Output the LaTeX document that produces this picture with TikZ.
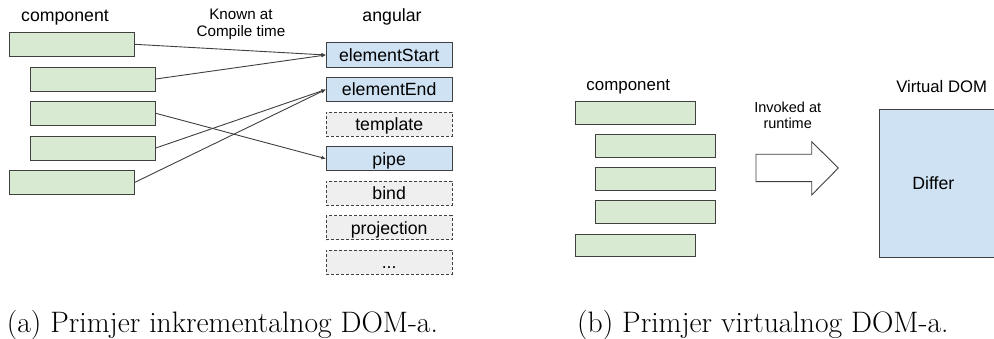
\documentclass[tikz,border=0pt]{standalone}
\usepackage{fontspec}
\newfontfamily\arialf{Liberation Sans}
\usetikzlibrary{arrows.meta}
\definecolor{gfill}{HTML}{D9EAD3}
\definecolor{bfill}{HTML}{CFE2F3}
\definecolor{yfill}{HTML}{EFEFEF}
\definecolor{edge}{HTML}{404040}
\tikzset{
  x=1pt, y=-1pt,
  lbl/.style={inner sep=0pt, anchor=base, font=\arialf\fontsize{17.7}{20}\selectfont},
  small/.style={inner sep=0pt, anchor=base, font=\arialf\fontsize{15.2}{18}\selectfont},
  captext/.style={inner sep=0pt, anchor=base west, font=\fontsize{29.6}{33}\selectfont},
  gbox/.style={draw=edge, line width=0.9pt, fill=gfill, inner sep=0pt, minimum width=124.7pt, minimum height=24pt},
  gboxb/.style={gbox, minimum width=119.7pt, minimum height=22.7pt},
  abox/.style={draw=edge, line width=0.9pt, inner sep=0pt, minimum width=125.7pt, minimum height=24.3pt,
     text height=12.7pt, text depth=0pt, font=\arialf\fontsize{17.7}{20}\selectfont},
  known/.style={abox, fill=bfill},
  unknown/.style={abox, fill=yfill, dashed, dash pattern=on 3pt off 2pt},
  conn/.style={draw=edge, line width=0.9pt, -{Latex[length=4.5pt,width=4pt]}},
}
\begin{document}
\begin{tikzpicture}
\clip (0,0) rectangle (994,339);
\fill[white] (0,0) rectangle (994,339);
% ---------- left panel ----------
\node[lbl] (comp1) at (65,22) {component};
\node[small] (known1) at (241,19.3) {Known at};
\node[small] (known2) at (241,36.7) {Compile time};
\node[lbl] (ang) at (392,22) {angular};

\node[gbox] (c1) at (71.7,44.3) {};
\node[gbox] (c2) at (93,79) {};
\node[gbox] (c3) at (93,113.3) {};
\node[gbox] (c4) at (93,148) {};
\node[gbox] (c5) at (71.7,182.5) {};

\node[known]   (es)   at (389.2,55)    {elementStart};
\node[known]   (ee)   at (389.2,89.5)  {elementEnd};
\node[unknown] (tpl)  at (389.2,124.2) {template};
\node[known]   (pipe) at (389.2,158.7) {pipe};
\node[unknown] (bind) at (389.2,193.3) {bind};
\node[unknown] (proj) at (389.2,227.8) {projection};
\node[unknown] (dots) at (389.2,262.3) {...};

\draw[conn] (c1.east) -- (es.west);
\draw[conn] (c2.east) -- (es.west);
\draw[conn] (c3.east) -- (pipe.west);
\draw[conn] (c4.east) -- (ee.west);
\draw[conn] (c5.east) -- (ee.west);

% ---------- right panel ----------
\node[lbl, font=\arialf\fontsize{16.9}{20}\selectfont] (comp2) at (628.3,90.7) {component};
\node[small, font=\arialf\fontsize{14.5}{17}\selectfont] (inv1) at (787.7,112.3) {Invoked at};
\node[small, font=\arialf\fontsize{14.5}{17}\selectfont] (inv2) at (787.7,129) {runtime};
\node[lbl, font=\arialf\fontsize{16.7}{20}\selectfont] (vdom) at (941.7,92.3) {Virtual DOM};

\node[gboxb] (d1) at (635.2,112.7) {};
\node[gboxb] (d2) at (655.5,145.8) {};
\node[gboxb] (d3) at (655.5,178.8) {};
\node[gboxb] (d4) at (655.5,212) {};
\node[gboxb] (d5) at (635.2,245.5) {};

\draw[draw=edge, line width=0.9pt, fill=white, line join=miter]
  (756,154.3) -- (811.7,154.3) -- (811.7,141.7) -- (838.3,168) -- (811.7,195)
  -- (811.7,181.7) -- (756,181.7) -- cycle;

\draw[draw=edge, line width=0.9pt, fill=bfill] (879.3,109.3) rectangle (1000,257.3);
\node[lbl] (differ) at (933.3,189.3) {Differ};

% ---------- captions ----------
\node[captext] (capa) at (6.7,332.5) {(a) Primjer inkrementalnog DOM-a.};
\node[captext] (capb) at (577,332.5) {(b) Primjer virtualnog DOM-a.};
\end{tikzpicture}
\end{document}
